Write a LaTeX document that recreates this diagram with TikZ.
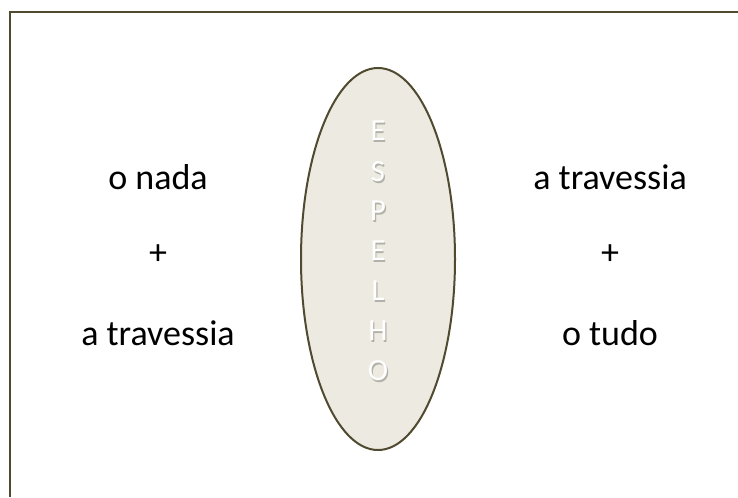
\documentclass[tikz,border=0pt]{standalone}
\usepackage{fontspec}
\setmainfont{Carlito}
\usetikzlibrary{shapes.geometric}
\definecolor{olive}{HTML}{4F4A30}
\definecolor{mirror}{HTML}{EDEBE1}
\definecolor{shade}{HTML}{B4B2A8}
\begin{document}
\begin{tikzpicture}[x=0.75pt,y=-0.75pt,
  word/.style={font=\fontsize{27}{30}\selectfont, text=black, anchor=center},
  letter/.style={font=\fontsize{23}{25}\selectfont, text=white, anchor=center},
  lettershadow/.style={font=\fontsize{23}{25}\selectfont, text=shade, anchor=center}]
\useasboundingbox (0,0) rectangle (738,497);
\fill[white] (0,0) rectangle (738,497);
\draw[olive, line width=1.6pt] (10,497) -- (10,12) -- (738,12);
\node[draw=olive, fill=mirror, line width=1.5pt, ellipse, inner sep=0pt,
  minimum width=154*0.75pt, minimum height=382*0.75pt] (mirrorshape) at (378,259) {};
\foreach \l/\y [count=\i] in {E/131,S/172,P/211,E/251,L/291,H/331,O/371}{
  \node[lettershadow] (s\i) at (379.2,\y+1.5) {\l};
  \node[letter] (l\i) at (378,\y) {\l};
}
\node[word] (lt) at (158,177) {o nada};
\node[word] (lp) at (158,255) {+};
\node[word] (lb) at (158,333) {a travessia};
\node[word] (rt) at (610,177) {a travessia};
\node[word] (rp) at (610,255) {+};
\node[word] (rb) at (610,333) {o tudo};
\end{tikzpicture}
\end{document}
